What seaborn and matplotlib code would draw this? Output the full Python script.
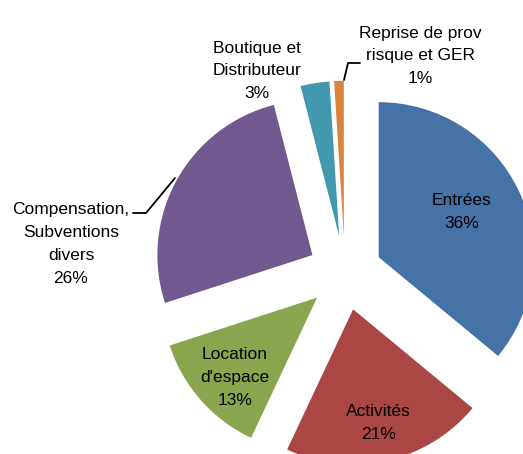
import matplotlib
matplotlib.use("Agg")
import matplotlib.pyplot as plt
import numpy as np
import seaborn as sns

categories = [
    "Entrées",
    "Activités",
    "Location\nd'espace",
    "Compensation,\nSubventions\ndivers",
    "Boutique et\nDistributeur",
    "Reprise de prov\nrisque et GER",
]
shares = [36, 21, 13, 26, 3, 1]
colors = ["#4572A7", "#AA4643", "#89A54E", "#71588F", "#4198AF", "#DB843D"]

sns.set_theme(style="white")
plt.rcParams["font.family"] = ["Liberation Sans", "DejaVu Sans"]

W, H = 523, 454
R = 155.0          # pie radius in pixels
CX, CY = 345, 273  # pie centre in pixels (y downward)

fig = plt.figure(figsize=(W / 100, H / 100), dpi=100)
ax = fig.add_axes([0, 0, 1, 1])

wedges, _ = ax.pie(
    shares,
    colors=colors,
    startangle=90,
    counterclock=False,
    explode=[0.24] * len(shares),
    radius=1,
    wedgeprops={"linewidth": 0},
)

ax.set_xlim(-CX / R, (W - CX) / R)
ax.set_ylim(-(H - CY) / R, CY / R)
ax.set_aspect("equal")
ax.axis("off")


def px(x, y):
    return (x - CX) / R, (CY - y) / R


fs = 12.5
ls = 1.65

# labels inside the big wedges: (distance from wedge tip, angle tweak in degrees)
inside = {0: (0.61, 3.4), 1: (0.75, 0.0), 2: (0.74, 2.6)}
for i, (dist, tweak) in inside.items():
    w = wedges[i]
    ang = np.deg2rad((w.theta1 + w.theta2) / 2 + tweak)
    x0, y0 = w.center
    tx = x0 + dist * w.r * np.cos(ang)
    ty = y0 + dist * w.r * np.sin(ang)
    ax.text(tx, ty, f"{categories[i]}\n{shares[i]}%", ha="center", va="center",
            fontsize=fs, linespacing=ls, color="black")

# outside labels
ax.text(*px(71, 244), f"{categories[3]}\n{shares[3]}%", ha="center", va="center",
        fontsize=fs, linespacing=ls, color="black")
ax.plot(*zip(px(133, 213), px(146, 213), px(175, 178)), color="black", lw=1.3)

ax.text(*px(257, 71), f"{categories[4]}\n{shares[4]}%", ha="center", va="center",
        fontsize=fs, linespacing=ls, color="black")

ax.text(*px(420, 56), f"{categories[5]}\n{shares[5]}%", ha="center", va="center",
        fontsize=fs, linespacing=ls, color="black")
ax.plot(*zip(px(344, 80), px(348, 63), px(360, 63)), color="black", lw=1.3)

fig.savefig("out.png", dpi=100)
